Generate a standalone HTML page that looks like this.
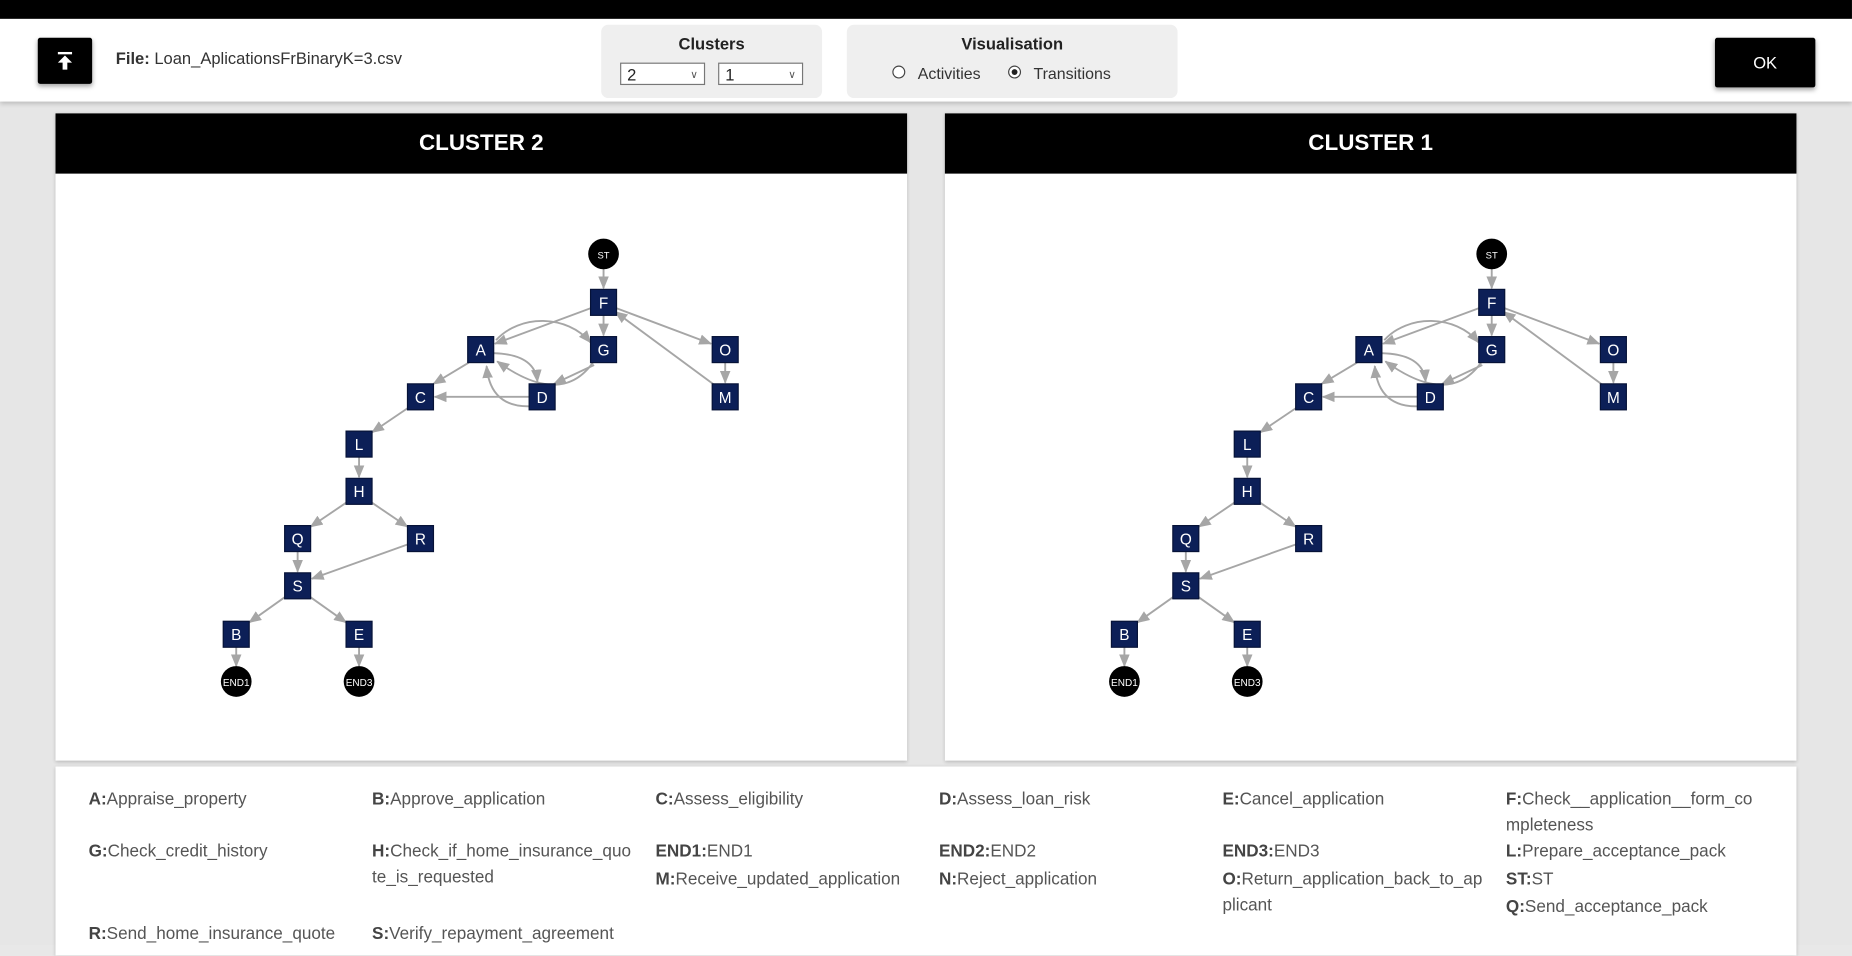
<!DOCTYPE html>
<html><head><meta charset="utf-8">
<style>
html,body{margin:0;padding:0;width:1852px;height:944px;overflow:hidden;background:#e8e8e8;}
#root{position:absolute;left:0;top:0;width:1568px;height:800px;transform:scale(1.1811);transform-origin:0 0;font-family:"Liberation Sans",sans-serif;background:#e6e6e6;}
.abs{position:absolute;}
.topbar{left:0;top:0;width:1568px;height:16px;background:#000;}
.header{left:0;top:16px;width:1568px;height:70px;background:#fff;box-shadow:0 2px 4px rgba(0,0,0,.2);}
.btn{background:#000;color:#fff;box-shadow:0 2px 4px rgba(0,0,0,.35);border-radius:2px;}
.box{background:#efefef;border-radius:6px;}
.sel{background:#fff;border:1px solid #777;height:19px;font-size:14px;line-height:19px;padding-left:5px;box-sizing:border-box;color:#222;}
.sel span{position:absolute;right:5px;top:0;font-size:9px;color:#555;}
.panel{background:#fff;box-shadow:0 1px 3px rgba(0,0,0,.2);}
.ph{background:#000;color:#fff;font-weight:bold;font-size:19px;text-align:center;line-height:51px;height:51px;}
.lg{font-size:14.5px;color:#555;line-height:21.5px;width:225px;word-break:break-all;}
.lg b{color:#444;}
</style></head><body><div id="root">
<div class="abs topbar"></div>
<div class="abs header"></div>
<div class="abs btn" style="left:32px;top:32px;width:46px;height:39px;">
<svg width="46" height="39"><rect x="17" y="12" width="12" height="2" fill="#fff"/><path d="M23 15 L17 21 H21 V27 H25 V21 H29 Z" fill="#fff"/></svg></div>
<div class="abs" style="left:98px;top:41px;font-size:14px;color:#333;"><b>File:</b> Loan_AplicationsFrBinaryK=3.csv</div>
<div class="abs box" style="left:509px;top:21px;width:187px;height:62px;"></div>
<div class="abs" style="left:509px;top:29px;width:187px;text-align:center;font-weight:bold;font-size:14px;color:#222;">Clusters</div>
<div class="abs sel" style="left:525px;top:53px;width:72px;">2<span>&#8744;</span></div>
<div class="abs sel" style="left:608px;top:53px;width:72px;">1<span>&#8744;</span></div>
<div class="abs box" style="left:717px;top:21px;width:280px;height:62px;"></div>
<div class="abs" style="left:717px;top:29px;width:280px;text-align:center;font-weight:bold;font-size:14px;color:#222;">Visualisation</div>
<svg class="abs" style="left:750px;top:52px;" width="130" height="20"><circle cx="11" cy="9" r="5" fill="#fff" stroke="#444" stroke-width="1"/><circle cx="109" cy="9" r="5" fill="#fff" stroke="#444" stroke-width="1"/><circle cx="109" cy="9" r="2.5" fill="#222"/></svg>
<div class="abs" style="left:777px;top:55px;font-size:13.5px;color:#333;">Activities</div>
<div class="abs" style="left:875px;top:55px;font-size:13.5px;color:#333;">Transitions</div>
<div class="abs btn" style="left:1452px;top:32px;width:85px;height:42px;font-size:14px;text-align:center;line-height:42px;">OK</div>

<div class="abs panel" style="left:47px;top:96px;width:721px;height:548px;"><div class="ph">CLUSTER 2</div></div>
<div class="abs panel" style="left:800px;top:96px;width:721px;height:548px;"><div class="ph">CLUSTER 1</div></div>

<svg class="abs" style="left:0;top:0;" width="1568" height="660">
<defs><marker id="ar" markerUnits="userSpaceOnUse" markerWidth="11" markerHeight="9" refX="10" refY="4.5" orient="auto"><path d="M0 0 L11 4.5 L0 9 Z" fill="#a6a6a6"/></marker></defs>
<g>
<g fill="none" stroke="#a6a6a6" stroke-width="1.6" marker-end="url(#ar)">
<path d="M511 227 L511 244"/><path d="M511 267 L511 284"/><path d="M500 261 L419 291"/><path d="M522 261 L602 291"/><path d="M605 326 L521 264"/><path d="M614 307 L614 324"/>
<path d="M420 288 C440 266 480 266 500 290"/><path d="M418 299 Q453 300 455 323"/><path d="M449 344 Q415 345 412 310"/><path d="M502 307 Q475 345 421 306"/><path d="M503 309 L469 325"/>
<path d="M397 307 L367 325"/><path d="M448 336 L368 336"/><path d="M346 345 L315 366"/><path d="M304 387 L304 404"/><path d="M294 425 L263 446"/><path d="M314 425 L345 446"/><path d="M252 467 L252 484"/><path d="M345 461 L264 490"/><path d="M242 505 L211 527"/><path d="M262 505 L293 527"/><path d="M200 548 L200 564"/><path d="M304 548 L304 564"/>
</g>
<g fill="#0c1f57" stroke="#061237" stroke-width="1">
<rect x="500" y="245" width="22" height="22"/><rect x="396" y="285" width="22" height="22"/><rect x="500" y="285" width="22" height="22"/><rect x="603" y="285" width="22" height="22"/><rect x="345" y="325" width="22" height="22"/><rect x="448" y="325" width="22" height="22"/><rect x="603" y="325" width="22" height="22"/><rect x="293" y="365" width="22" height="22"/><rect x="293" y="405" width="22" height="22"/><rect x="241" y="445" width="22" height="22"/><rect x="345" y="445" width="22" height="22"/><rect x="241" y="485" width="22" height="22"/><rect x="189" y="526" width="22" height="22"/><rect x="293" y="526" width="22" height="22"/>
</g>
<g fill="#000"><circle cx="511" cy="215" r="13"/><circle cx="200" cy="577" r="13"/><circle cx="304" cy="577" r="13"/></g>
<g fill="#fff" font-family="Liberation Sans,sans-serif" font-size="13" text-anchor="middle">
<text x="511" y="261">F</text><text x="407" y="301">A</text><text x="511" y="301">G</text><text x="614" y="301">O</text><text x="356" y="341">C</text><text x="459" y="341">D</text><text x="614" y="341">M</text><text x="304" y="381">L</text><text x="304" y="421">H</text><text x="252" y="461">Q</text><text x="356" y="461">R</text><text x="252" y="501">S</text><text x="200" y="542">B</text><text x="304" y="542">E</text>
<text x="511" y="219" font-size="8">ST</text><text x="200" y="581" font-size="8.5">END1</text><text x="304" y="581" font-size="8.5">END3</text>
</g>
</g>
<g transform="translate(752,0)">
<g fill="none" stroke="#a6a6a6" stroke-width="1.6" marker-end="url(#ar)">
<path d="M511 227 L511 244"/><path d="M511 267 L511 284"/><path d="M500 261 L419 291"/><path d="M522 261 L602 291"/><path d="M605 326 L521 264"/><path d="M614 307 L614 324"/>
<path d="M420 288 C440 266 480 266 500 290"/><path d="M418 299 Q453 300 455 323"/><path d="M449 344 Q415 345 412 310"/><path d="M502 307 Q475 345 421 306"/><path d="M503 309 L469 325"/>
<path d="M397 307 L367 325"/><path d="M448 336 L368 336"/><path d="M346 345 L315 366"/><path d="M304 387 L304 404"/><path d="M294 425 L263 446"/><path d="M314 425 L345 446"/><path d="M252 467 L252 484"/><path d="M345 461 L264 490"/><path d="M242 505 L211 527"/><path d="M262 505 L293 527"/><path d="M200 548 L200 564"/><path d="M304 548 L304 564"/>
</g>
<g fill="#0c1f57" stroke="#061237" stroke-width="1">
<rect x="500" y="245" width="22" height="22"/><rect x="396" y="285" width="22" height="22"/><rect x="500" y="285" width="22" height="22"/><rect x="603" y="285" width="22" height="22"/><rect x="345" y="325" width="22" height="22"/><rect x="448" y="325" width="22" height="22"/><rect x="603" y="325" width="22" height="22"/><rect x="293" y="365" width="22" height="22"/><rect x="293" y="405" width="22" height="22"/><rect x="241" y="445" width="22" height="22"/><rect x="345" y="445" width="22" height="22"/><rect x="241" y="485" width="22" height="22"/><rect x="189" y="526" width="22" height="22"/><rect x="293" y="526" width="22" height="22"/>
</g>
<g fill="#000"><circle cx="511" cy="215" r="13"/><circle cx="200" cy="577" r="13"/><circle cx="304" cy="577" r="13"/></g>
<g fill="#fff" font-family="Liberation Sans,sans-serif" font-size="13" text-anchor="middle">
<text x="511" y="261">F</text><text x="407" y="301">A</text><text x="511" y="301">G</text><text x="614" y="301">O</text><text x="356" y="341">C</text><text x="459" y="341">D</text><text x="614" y="341">M</text><text x="304" y="381">L</text><text x="304" y="421">H</text><text x="252" y="461">Q</text><text x="356" y="461">R</text><text x="252" y="501">S</text><text x="200" y="542">B</text><text x="304" y="542">E</text>
<text x="511" y="219" font-size="8">ST</text><text x="200" y="581" font-size="8.5">END1</text><text x="304" y="581" font-size="8.5">END3</text>
</g>
</g>
</svg>

<div class="abs panel" style="left:47px;top:649px;width:1474px;height:160px;"></div>
<div class="abs lg" style="left:75px;top:667px;"><b>A:</b>Appraise_property</div>
<div class="abs lg" style="left:315px;top:667px;"><b>B:</b>Approve_application</div>
<div class="abs lg" style="left:555px;top:667px;"><b>C:</b>Assess_eligibility</div>
<div class="abs lg" style="left:795px;top:667px;"><b>D:</b>Assess_loan_risk</div>
<div class="abs lg" style="left:1035px;top:667px;"><b>E:</b>Cancel_application</div>
<div class="abs lg" style="left:1275px;top:667px;"><b>F:</b>Check__application__form_co<br>mpleteness</div>
<div class="abs lg" style="left:75px;top:711px;"><b>G:</b>Check_credit_history</div>
<div class="abs lg" style="left:315px;top:711px;"><b>H:</b>Check_if_home_insurance_quo<br>te_is_requested</div>
<div class="abs lg" style="left:555px;top:711px;"><b>END1:</b>END1</div>
<div class="abs lg" style="left:795px;top:711px;"><b>END2:</b>END2</div>
<div class="abs lg" style="left:1035px;top:711px;"><b>END3:</b>END3</div>
<div class="abs lg" style="left:1275px;top:711px;"><b>L:</b>Prepare_acceptance_pack</div>
<div class="abs lg" style="left:555px;top:735px;"><b>M:</b>Receive_updated_application</div>
<div class="abs lg" style="left:795px;top:735px;"><b>N:</b>Reject_application</div>
<div class="abs lg" style="left:1035px;top:735px;"><b>O:</b>Return_application_back_to_ap<br>plicant</div>
<div class="abs lg" style="left:1275px;top:735px;"><b>ST:</b>ST</div>
<div class="abs lg" style="left:1275px;top:758px;"><b>Q:</b>Send_acceptance_pack</div>
<div class="abs lg" style="left:75px;top:781px;"><b>R:</b>Send_home_insurance_quote</div>
<div class="abs lg" style="left:315px;top:781px;"><b>S:</b>Verify_repayment_agreement</div>
</div></body></html>
